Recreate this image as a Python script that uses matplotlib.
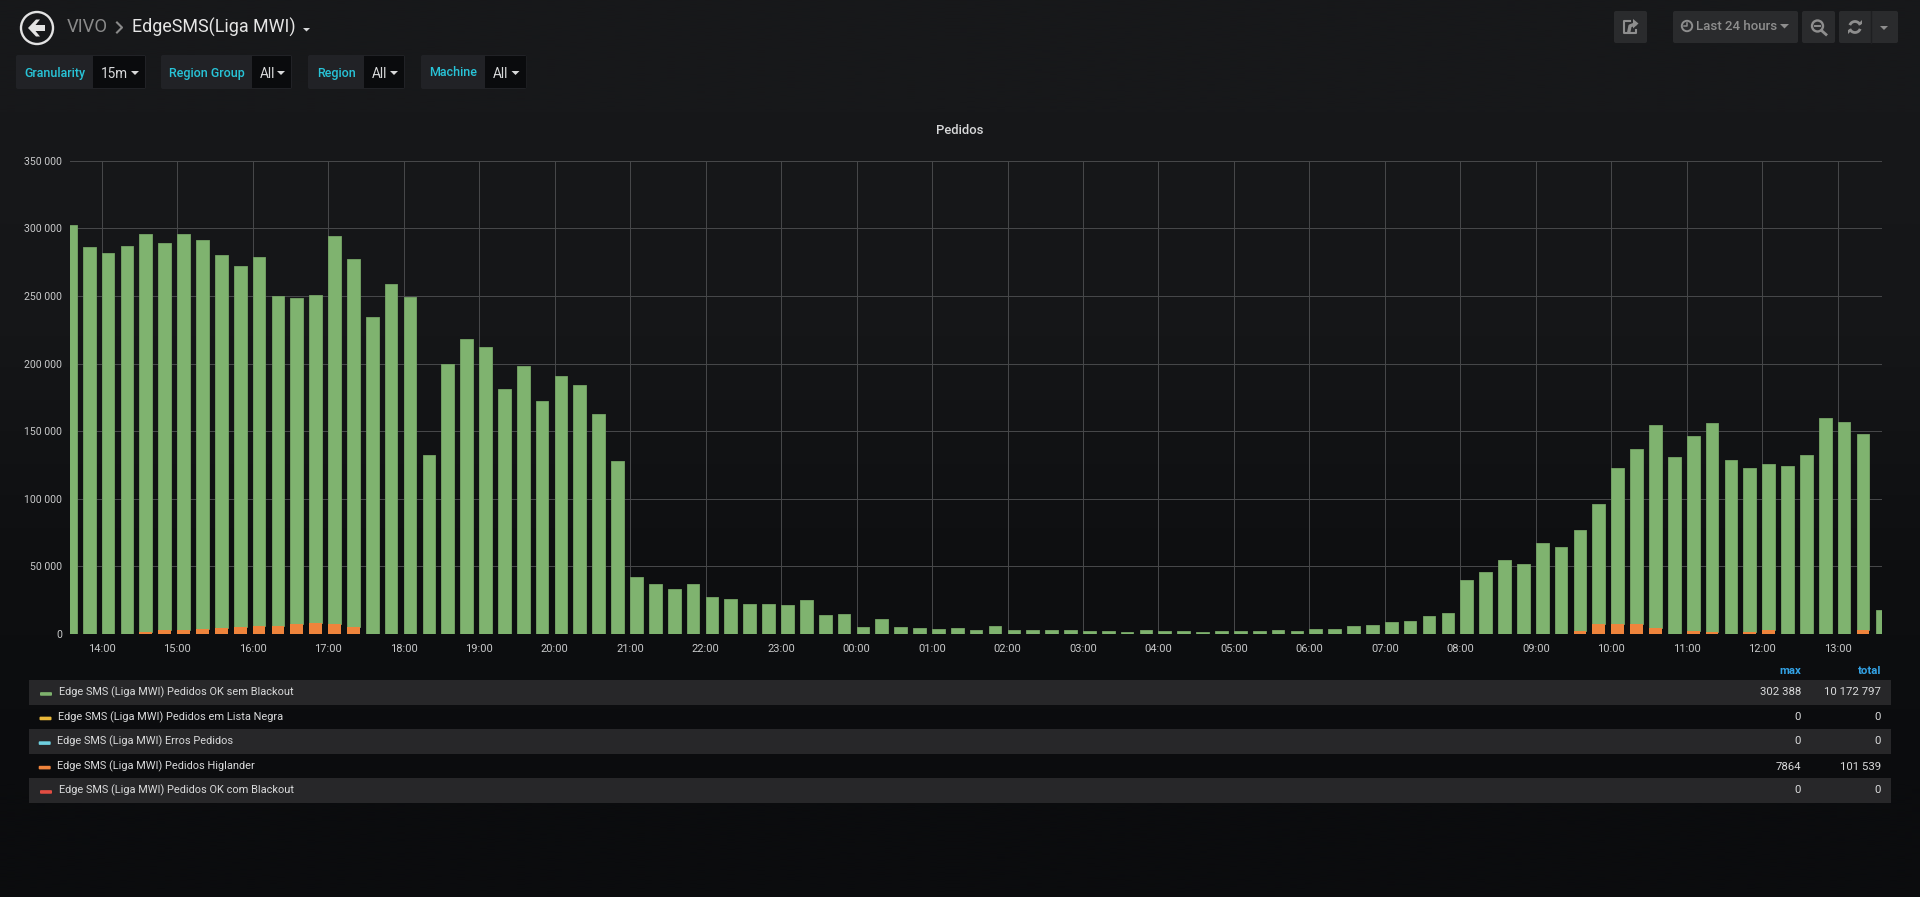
import numpy as np
import matplotlib
matplotlib.use("Agg")
import matplotlib.pyplot as plt
from matplotlib.patches import Rectangle, Circle, Polygon, FancyBboxPatch, Arc

plt.rcParams['font.family'] = ['Roboto', 'DejaVu Sans']

# 15 minute buckets, the first one starts at 13:30 and is cut by the left axis
ok_tops = [302388, 286000, 282000, 287000, 296000, 289000, 296000, 291000, 280000, 272000,
           279000, 250000, 248500, 251000, 294000, 277500, 234500, 258500, 249000, 132000,
           200000, 218000, 212000, 181500, 198500, 172000, 191000, 184500, 163000, 128000,
           42500, 37000, 33500, 37000, 27500, 26000, 22000, 22500, 21500, 25500,
           14300, 14500, 4900, 10800, 4900, 4200, 3400, 4400, 2700, 5700,
           3000, 3200, 3000, 3000, 2500, 1900, 1500, 3000, 2200, 2000,
           1700, 2200, 2500, 2000, 2700, 2500, 3400, 3700, 5900, 6400,
           9100, 9800, 13000, 15700, 40000, 46000, 54500, 52000, 67000, 64500,
           77000, 96500, 122500, 136500, 154500, 131000, 146500, 156000, 129000, 122500,
           125500, 124500, 132000, 160000, 156500, 148000, 18000]
higlander = [0, 0, 0, 0, 1230, 2700, 3200, 3900, 4700, 4900,
             6100, 6100, 7100, 7864, 7400, 5400, 0, 0, 0, 0,
             0, 0, 0, 0, 0, 0, 0, 0, 0, 0,
             0, 0, 0, 0, 0, 0, 0, 0, 0, 0,
             0, 0, 0, 0, 0, 0, 0, 0, 0, 0,
             0, 0, 0, 0, 0, 0, 0, 0, 0, 0,
             0, 0, 0, 0, 0, 0, 0, 0, 0, 0,
             0, 0, 0, 0, 0, 0, 0, 0, 0, 0,
             2500, 7600, 7600, 7600, 4400, 0, 2000, 1200, 0, 1700,
             2700, 0, 0, 0, 0, 3200, 0]
hour_labels = ['14:00', '15:00', '16:00', '17:00', '18:00', '19:00', '20:00', '21:00', '22:00',
               '23:00', '00:00', '01:00', '02:00', '03:00', '04:00', '05:00', '06:00', '07:00',
               '08:00', '09:00', '10:00', '11:00', '12:00', '13:00']
y_ticks = [0, 50000, 100000, 150000, 200000, 250000, 300000, 350000]
series_names = ['Edge SMS (Liga MWI) Pedidos OK sem Blackout',
                'Edge SMS (Liga MWI) Pedidos em Lista Negra',
                'Edge SMS (Liga MWI) Erros Pedidos',
                'Edge SMS (Liga MWI) Pedidos Higlander',
                'Edge SMS (Liga MWI) Pedidos OK com Blackout']
series_colors = ['#7eb26d', '#eab839', '#6ed0e0', '#ef843c', '#e24d42']
series_max = ['302 388', '0', '0', '7864', '0']
series_total = ['10 172 797', '0', '0', '101 539', '0']
var_names = ['Granularity', 'Region Group', 'Region', 'Machine']
var_values = ['15m', 'All', 'All', 'All']

W, H = 1920, 897
TEXT = '#d8d9da'
CYAN = '#28c4d8'
GREY = '#8e8e8e'

fig = plt.figure(figsize=(W / 100, H / 100), dpi=100)

# page layer in pixel coords, y pointing down
page = fig.add_axes([0, 0, 1, 1], zorder=0)
page.set_xlim(0, W)
page.set_ylim(H, 0)
page.axis('off')
bg = np.array([[0x17, 0x18, 0x1a], [0x15, 0x16, 0x18], [0x0e, 0x0f, 0x11], [0x0b, 0x0c, 0x0e]]) / 255
page.imshow(bg.reshape(4, 1, 3), extent=[0, W, H, 0], aspect='auto', interpolation='bilinear')


def box(x0, y0, x1, y1, color):
    page.add_patch(FancyBboxPatch((x0 + 2, y0 + 2), x1 - x0 - 4, y1 - y0 - 4,
                                  boxstyle='round,pad=2', fc=color, ec='none'))


# header
page.add_patch(Circle((37, 28), 16, fc='none', ec='#e3e3e3', lw=1.7))
page.add_patch(Polygon([(28, 28), (36, 19.5), (40, 19.5), (35.5, 25), (45, 25), (45, 31), (35.5, 31), (40, 36.5), (36, 36.5)],
                       fc='#e3e3e3', ec='none'))
page.text(67, 27, 'VIVO', color='#8a8a8a', fontsize=13.2, va='center')
page.plot([117, 122, 117], [22.5, 27.5, 32.5], color='#8a8a8a', lw=1.5)
page.text(132, 27, 'EdgeSMS(Liga MWI)', color='#e6e6e6', fontsize=12.9, va='center')
page.add_patch(Polygon([(303, 28), (310, 28), (306.5, 31.5)], fc=TEXT, ec='none'))

# template variables
var_boxes = [(16, 93, 146), (161, 252, 292), (308, 364, 405), (421, 484.5, 526.5)]
for name, value, (x0, xs, x1) in zip(var_names, var_values, var_boxes):
    box(x0, 55, x1, 89, '#212226')
    page.add_patch(Rectangle((xs, 56), x1 - xs - 1, 32, fc='#0a0b0d', ec='none'))
    page.text((x0 + xs) / 2, 73, name, color=CYAN, fontsize=9, weight='medium', ha='center', va='center')
    page.text(xs + 8, 74, value, color=TEXT, fontsize=9.8, va='center')
    page.add_patch(Polygon([(x1 - 15, 71), (x1 - 7, 71), (x1 - 11, 75)], fc=TEXT, ec='none'))

# right hand buttons
for x0, x1 in [(1614, 1647), (1673, 1798), (1802, 1835), (1839, 1898)]:
    box(x0, 11, x1, 43, '#2a2b2d')
page.plot([1871, 1871], [11, 43], color='#1e1f21', lw=1)
page.plot([1630, 1624, 1624, 1636, 1636], [21, 21, 33, 33, 30], color=GREY, lw=1.5)
page.plot([1629, 1630, 1635], [31, 26, 24], color=GREY, lw=2.4)
page.add_patch(Polygon([(1633, 19), (1638.5, 23.5), (1633, 28.5)], fc=GREY, ec='none'))
page.add_patch(Circle((1687, 26), 5.2, fc='none', ec=GREY, lw=1.4))
page.plot([1687, 1687, 1684], [22.8, 26.4, 26.4], color=GREY, lw=1.1)
page.text(1696, 26.5, 'Last 24 hours', color=GREY, fontsize=9.5, weight='medium', va='center')
page.add_patch(Polygon([(1780, 24), (1789, 24), (1784.5, 28.5)], fc=GREY, ec='none'))
page.add_patch(Circle((1817.5, 26), 5.5, fc='none', ec=GREY, lw=1.7))
page.plot([1815, 1820], [26, 26], color=GREY, lw=1.4)
page.plot([1821.5, 1826], [30.5, 34.5], color=GREY, lw=2)
page.add_patch(Arc((1855, 27), 11, 11, theta1=200, theta2=340, ec=GREY, lw=2))
page.add_patch(Arc((1855, 27), 11, 11, theta1=20, theta2=160, ec=GREY, lw=2))
page.add_patch(Polygon([(1858, 24), (1862, 20), (1862, 24)], fc=GREY, ec='none'))
page.add_patch(Polygon([(1848, 30), (1852, 30), (1848, 34)], fc=GREY, ec='none'))
page.add_patch(Polygon([(1880, 26), (1888, 26), (1884, 30)], fc=GREY, ec='none'))

page.text(960, 130, 'Pedidos', color=TEXT, fontsize=9.4, weight='medium', ha='center', va='center')

# chart, one unit on x is one bucket
left, right, top, bottom = 69.8, 1882, 160.7, 634
ax = fig.add_axes([left / W, 1 - bottom / H, (right - left) / W, (bottom - top) / H], zorder=1)
ax.patch.set_visible(False)
bucket_px = 18.87
bar_frac = 12.7 / bucket_px
ax.set_xlim((left - 64) / bucket_px, (right - 64) / bucket_px)
ax.set_ylim(0, 350000)

idx = np.arange(len(ok_tops))
ok_tops = np.array(ok_tops)
higlander = np.array(higlander)
ax.bar(idx, ok_tops - higlander, width=bar_frac, bottom=higlander, align='edge', color='#7fb36f', edgecolor='#76a566', linewidth=0.6, zorder=3)
ax.bar(idx, higlander, width=bar_frac, align='edge', color='#ef843c', linewidth=0, zorder=4)

hour_pos = np.arange(2, len(ok_tops), 4)
ax.set_xticks(hour_pos)
ax.set_xticklabels(hour_labels)
ax.set_yticks(y_ticks)
ax.set_yticklabels([f'{v:,}'.replace(',', ' ') for v in y_ticks])
ax.grid(True, color='#48494b', lw=0.7, zorder=1)
ax.tick_params(axis='both', length=0, colors='#c8c9ca', labelsize=8)
ax.tick_params(axis='y', labelsize=7.6, pad=5.5)
ax.tick_params(axis='x', pad=7)
for s in ax.spines.values():
    s.set_visible(False)

# legend table
page.text(1801, 671, 'max', color='#33a2e5', fontsize=8.2, weight='bold', ha='right', va='center')
page.text(1881, 671, 'total', color='#33a2e5', fontsize=8.2, weight='bold', ha='right', va='center')
row_y = [680, 704.7, 729, 754, 778, 802.7]
swatch_x = [40, 39.5, 38.7, 38.7, 40]
text_x = [59, 58.5, 57.3, 57.3, 59]
for i in range(len(series_names)):
    y0, y1 = row_y[i], row_y[i + 1]
    if i % 2 == 0:
        page.add_patch(Rectangle((29, y0), 1891 - 29, y1 - y0, fc='#272729', ec='none'))
    ym = (y0 + y1) / 2
    ty = ym - 0.5 if i % 2 == 0 else ym + 0.5
    page.add_patch(FancyBboxPatch((swatch_x[i] + 1, ym + 0.8), 10, 1.6, boxstyle='round,pad=1',
                                  fc=series_colors[i], ec='none'))
    page.text(text_x[i], ty, series_names[i], color=TEXT, fontsize=7.95, va='center')
    page.text(1801, ty, series_max[i], color=TEXT, fontsize=8.2, ha='right', va='center')
    page.text(1881, ty, series_total[i], color=TEXT, fontsize=8.2, ha='right', va='center')

fig.savefig('out.png', dpi=100)
